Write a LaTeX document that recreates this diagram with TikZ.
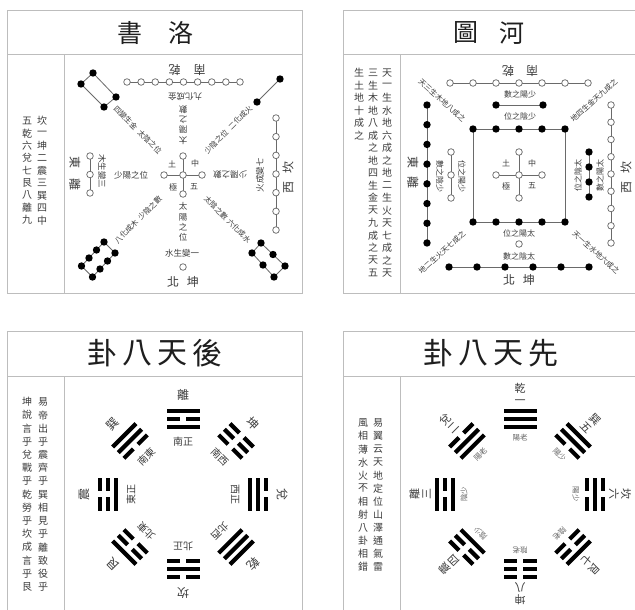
\documentclass[tikz,border=0pt]{standalone}
\usepackage{fontspec}
\newfontfamily\cjk{Noto Sans CJK TC}
\definecolor{framec}{HTML}{BDBDBD}
\definecolor{inkc}{HTML}{3C3C3C}
\definecolor{titlec}{HTML}{1E1E1E}
\definecolor{linec}{HTML}{6A6A6A}
\definecolor{softc}{HTML}{666666}
\newcommand{\yao}[2]{%
  \ifnum#2=1
    \fill (-16.5,#1-2.1) rectangle (16.5,#1+2.1);%
  \else
    \fill (-16.5,#1-2.1) rectangle (-3.2,#1+2.1);%
    \fill (3.2,#1-2.1) rectangle (16.5,#1+2.1);%
  \fi}
\newcommand{\trigram}[6]{%
  \begin{scope}[shift={(#1,#2)},rotate=#3-90]
    \yao{8}{#4}\yao{0}{#5}\yao{-8}{#6}
  \end{scope}}
\tikzset{
  wdot/.style={circle,draw=linec,fill=white,line width=0.75pt,minimum size=6.6pt,inner sep=0pt},
  bdot/.style={circle,fill=black,minimum size=7.4pt,inner sep=0pt},
  link/.style={draw=linec,line width=0.8pt},
  frameline/.style={draw=framec,line width=1pt},
  txt/.style={text=inkc,inner sep=0pt,font=\cjk\fontsize{#1}{#1}\selectfont},
  txt/.default=9,
  ttl/.style={text=titlec,inner sep=0pt,font=\cjk\fontsize{#1}{#1}\selectfont},
}
\begin{document}
\begin{tikzpicture}[x=1pt,y=-1pt]
\useasboundingbox (0,0) rectangle (635,610);
\fill[white] (0,0) rectangle (635,610);

% ---------------- frames ----------------
\draw[frameline] (7,11) rectangle (302,293);
\draw[frameline] (7,55) -- (302,55);
\draw[frameline] (64,55) -- (64,293);
\draw[frameline] (635,11) -- (343,11) -- (343,293) -- (635,293);
\draw[frameline] (343,55) -- (635,55);
\draw[frameline] (400,55) -- (400,293);
\draw[frameline] (7,610) -- (7,331) -- (302,331) -- (302,610);
\draw[frameline] (7,376) -- (302,376);
\draw[frameline] (64,376) -- (64,610);
\draw[frameline] (343,610) -- (343,331) -- (635,331);
\draw[frameline] (343,376) -- (635,376);
\draw[frameline] (400,376) -- (400,610);

% ---------------- titles ----------------
\node[ttl=25] at (130,33) {書};
\node[ttl=25] at (181,33) {洛};
\node[ttl=25] at (466,33) {圖};
\node[ttl=25] at (512,33) {河};
\foreach \c [count=\i from 0] in {卦,八,天,後} \node[ttl=30] at ({102+35*\i},353) {\c};
\foreach \c [count=\i from 0] in {卦,八,天,先} \node[ttl=30] at ({438+35*\i},353) {\c};

% ---------------- side columns ----------------
\foreach \c [count=\i from 0] in {坎,一,坤,二,震,三,巽,四,中} \node[txt=10] at (42,{121+12.4*\i}) {\c};
\foreach \c [count=\i from 0] in {五,乾,六,兌,七,艮,八,離,九} \node[txt=10] at (27,{121+12.4*\i}) {\c};
\foreach \c [count=\i from 0] in {天,一,生,水,地,六,成,之,地,二,生,火,天,七,成,之,天} \node[txt=10] at (387,{73+12.5*\i}) {\c};
\foreach \c [count=\i from 0] in {三,生,木,地,八,成,之,地,四,生,金,天,九,成,之,天,五} \node[txt=10] at (373,{73+12.5*\i}) {\c};
\foreach \c [count=\i from 0] in {生,土,地,十,成,之} \node[txt=10] at (359,{73+12.5*\i}) {\c};
\foreach \c [count=\i from 0] in {易,帝,出,乎,震,齊,乎,巽,相,見,乎,離,致,役,乎} \node[txt=10] at (43,{402+13.2*\i}) {\c};
\foreach \c [count=\i from 0] in {坤,說,言,乎,兌,戰,乎,乾,勞,乎,坎,成,言,乎,艮} \node[txt=10] at (27,{402+13.2*\i}) {\c};
\foreach \c [count=\i from 0] in {易,翼,云,天,地,定,位,山,澤,通,氣,雷} \node[txt=10] at (378,{423+13.1*\i}) {\c};
\foreach \c [count=\i from 0] in {風,相,薄,水,火,不,相,射,八,卦,相,錯} \node[txt=10] at (363,{423+13.1*\i}) {\c};

% ================= Luoshu =================
\draw[link] (127,82) -- (240,82);
\foreach \i in {0,...,8} \node[wdot] at ({127+14.125*\i},82) {};
\draw[link] (276,118) -- (276,230);
\foreach \i in {0,...,6} \node[wdot] at (276,{118+18.67*\i}) {};
\draw[link] (90,156) -- (90,193);
\foreach \y in {156,174.5,193} \node[wdot] at (90,\y) {};
\draw[link] (164,175) -- (202,175);
\draw[link] (183,156) -- (183,194);
\foreach \p in {(183,175),(183,156),(183,194),(164,175),(202,175)} \node[wdot] at \p {};
\node[wdot] at (183,267) {};
% black groups
\draw[link] (93,73) -- (81,84) -- (104,107) -- (116,97) -- cycle;
\foreach \p in {(93,73),(81,84),(104,107),(116,97)} \node[bdot] at \p {};
\draw[link] (280,79) -- (257,102);
\foreach \p in {(280,79),(257,102)} \node[bdot] at \p {};
\draw[link] (104,242) -- (81.5,266) -- (92.5,277) -- (115,253) -- cycle;
\foreach \i in {0,...,3} {\node[bdot] at ({104-7.5*\i},{242+8*\i}) {}; \node[bdot] at ({115-7.5*\i},{253+8*\i}) {};}
\draw[link] (252,253) -- (261,243) -- (285,266) -- (274,277) -- cycle;
\foreach \i in {0,1,2} {\node[bdot] at ({252+11*\i},{253+12*\i}) {}; \node[bdot] at ({261+12*\i},{243+11.5*\i}) {};}
% labels
\node[txt=12,rotate=180] at (187,70) {南\hspace{13pt}乾};
\node[txt=8.5,rotate=180] at (185,97) {九化成金};
\node[txt=8.5,align=center,font=\cjk\fontsize{8.5}{10.3}\selectfont,rotate=180] at (183,125) {太\\陽\\之\\數};
\node[txt=8.5,align=center,font=\cjk\fontsize{8.5}{10.3}\selectfont] at (183,222) {太\\陽\\之\\位};
\node[txt=8.5] at (131,175) {少陽之位};
\node[txt=8.5,rotate=180] at (230,175) {少陽之數};
\node[txt=8] at (172,164) {土};
\node[txt=8] at (195,163) {中};
\node[txt=8] at (173,187) {極};
\node[txt=8] at (194,187) {五};
\node[txt=7.5,rotate=-45] at (149.8,141.8) {太陰之位};
\node[txt=7.5,rotate=-45] at (125.7,117.7) {四變生金};
\node[txt=7.5,rotate=45] at (216.2,141.8) {少陰之位};
\node[txt=7.5,rotate=45] at (240.3,117.7) {二化成火};
\node[txt=7.5,rotate=45] at (149.8,208.2) {少陰之數};
\node[txt=7.5,rotate=45] at (126.4,231.6) {八化成木};
\node[txt=7.5,rotate=-45] at (216.2,208.2) {太陰之數};
\node[txt=7.5,rotate=-45] at (238.9,230.9) {六化成水};
\node[txt=8.5] at (182,253) {水生變一};
\node[txt=12] at (183,282) {北\hspace{8pt}坤};
\node[txt=12,rotate=-90] at (75,174) {東\hspace{10pt}離};
\node[txt=8.5,rotate=-90] at (102,171) {木生變三};
\node[txt=8.5,rotate=90] at (260,175) {火成變七};
\node[txt=12,rotate=90] at (288,177) {西\hspace{8pt}坎};

% ================= Hetu =================
\draw[link] (450,83) -- (588,83);
\foreach \i in {0,...,6} \node[wdot] at ({450+23*\i},83) {};
\node[txt=12,rotate=180] at (520,71) {南\hspace{12pt}乾};
\node[txt=8] at (520,94) {數之陽少};
\draw[link] (496,105) -- (543,105);
\node[bdot] at (496,105) {}; \node[bdot] at (543,105) {};
\node[txt=8] at (520,116) {位之陰少};
\draw[link] (473,129) rectangle (565,222);
\foreach \i in {0,...,4} {\node[bdot] at ({473+23*\i},129) {}; \node[bdot] at ({473+23*\i},222) {};}
\draw[link] (496,175) -- (542,175);
\draw[link] (519,152) -- (519,198);
\foreach \p in {(519,175),(519,152),(519,198),(496,175),(542,175)} \node[wdot] at \p {};
\node[txt=8] at (506,163) {土};
\node[txt=8] at (532,163) {中};
\node[txt=8] at (506,186) {極};
\node[txt=8] at (532,186) {五};
\node[txt=8] at (519,233) {位之陽太};
\node[wdot] at (519,244) {};
\node[txt=8] at (519,256) {數之陰太};
\draw[link] (449,267) -- (589,267);
\foreach \i in {0,...,5} \node[bdot] at ({449+28*\i},267) {};
\node[txt=12] at (519,280) {北\hspace{8pt}坤};
\draw[link] (427,105) -- (427,243);
\foreach \i in {0,...,7} \node[bdot] at (427,{105+19.71*\i}) {};
\node[txt=12,rotate=-90] at (413,173) {東\hspace{8pt}離};
\draw[link] (451,152) -- (451,198);
\foreach \y in {152,175,198} \node[wdot] at (451,\y) {};
\node[txt=8,rotate=-90] at (440,176) {數之陰少};
\node[txt=8,rotate=-90] at (462,176) {位之陽少};
\draw[link] (611,105) -- (611,243);
\foreach \i in {0,...,8} \node[wdot] at (611,{105+17.25*\i}) {};
\draw[link] (589,152) -- (589,197);
\foreach \y in {152,167,182,197} \node[bdot] at (589,\y) {};
\node[txt=8,rotate=90] at (578,175) {位之陰太};
\node[txt=8,rotate=90] at (600,175) {數之陽太};
\node[txt=12,rotate=90] at (626,177) {西\hspace{8pt}坎};
\node[txt=7.5,rotate=-42] at (442,100) {天三生木地八成之};
\node[txt=7.5,rotate=42] at (594,100) {地四生金天九成之};
\node[txt=7.5,rotate=42] at (442,252) {地二生火天七成之};
\node[txt=7.5,rotate=-42] at (596,252) {天一生水地六成之};

% ================= Later Heaven =================
\foreach \t/\a/\b/\c/\o/\n in {90/1/0/1/離/南正, 45/0/0/0/坤/南西, 0/1/1/0/兌/西正, -45/1/1/1/乾/北西, -90/0/1/0/坎/北正, -135/0/0/1/艮/北東, 180/1/0/0/震/東正, 135/0/1/1/巽/南東}{
  \trigram{{183+75*cos(\t)}}{{494-75*sin(\t)}}{\t}{\a}{\b}{\c}
  \node[txt=12,rotate=\t-90] at ({183+99*cos(\t)},{494-99*sin(\t)}) {\o};
  \node[txt=10,rotate=\t-90] at ({183+52*cos(\t)},{494-52*sin(\t)}) {\n};
}

% ================= Former Heaven =================
\foreach \t/\a/\b/\c/\o/\m/\n in {90/1/1/1/乾/一/陽老, 135/1/1/0/兌/二/陽老, 180/1/0/1/離/三/陰少, -135/1/0/0/震/四/陰少, 45/0/1/1/巽/五/陽少, 0/0/1/0/坎/六/陽少, -45/0/0/1/艮/七/陰老, -90/0/0/0/坤/八/陰老}{
  \trigram{{520+75*cos(\t)}}{{494-75*sin(\t)}}{\t}{\a}{\b}{\c}
  \node[txt=11,align=center,font=\cjk\fontsize{11}{12}\selectfont,rotate=\t-90] at ({520+100*cos(\t)},{494-100*sin(\t)}) {\o\\\m};
  \node[txt=7.5,text=softc,rotate=\t-90] at ({520+56*cos(\t)},{494-56*sin(\t)}) {\n};
}
\end{tikzpicture}
\end{document}
